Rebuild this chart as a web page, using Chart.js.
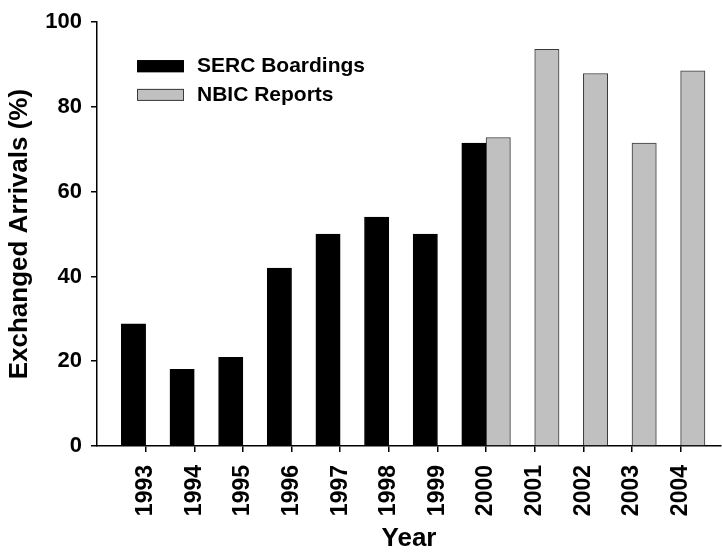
<!DOCTYPE html>
<html>
<head>
<meta charset="utf-8">
<script src="https://cdn.jsdelivr.net/npm/chart.js@4/dist/chart.umd.min.js"></script>
<style>
  html, body { margin: 0; padding: 0; background: #fff; }
  #wrap { width: 722px; height: 552px; }
</style>
</head>
<body>
<div id="wrap"><canvas id="chart"></canvas></div>
<script>
const years = [1993, 1994, 1995, 1996, 1997, 1998, 1999, 2000, 2001, 2002, 2003, 2004];
const sercYears = [1993, 1994, 1995, 1996, 1997, 1998, 1999, 2000];
const sercValues = [28.8, 18.1, 20.9, 42.0, 50.0, 54.0, 50.0, 71.5];
const nbicYears = [2000, 2001, 2002, 2003, 2004];
const nbicValues = [72.8, 93.6, 87.9, 71.5, 88.5];
const yTicks = [0, 20, 40, 60, 80, 100];

const FONT = '"Liberation Sans", Arial, Helvetica, sans-serif';

// legend drawn inside the plot, top-left
const insideLegend = {
    id: 'insideLegend',
    afterDatasetsDraw(chart) {
        const ctx = chart.ctx;
        const area = chart.chartArea;
        const x0 = area.left + 40;
        let y0 = area.top + 38;
        ctx.save();
        ctx.font = 'bold 21px ' + FONT;
        ctx.textBaseline = 'middle';
        ctx.textAlign = 'left';
        chart.data.datasets.forEach(ds => {
            ctx.fillStyle = ds.backgroundColor;
            ctx.fillRect(x0, y0, 47, 12);
            ctx.strokeStyle = ds.borderColor;
            ctx.lineWidth = 1;
            ctx.strokeRect(x0 + 0.5, y0 + 0.5, 46, 11);
            ctx.fillStyle = '#000';
            ctx.fillText(ds.label, x0 + 60, y0 + 6);
            y0 += 28.7;
        });
        ctx.restore();
    }
};

const ctx = document.getElementById('chart');
new Chart(ctx, {
    type: 'bar',
    data: {
        datasets: [
            {
                label: 'SERC Boardings',
                data: sercYears.map((x, i) => ({ x: x, y: sercValues[i] })),
                backgroundColor: '#000000',
                borderColor: '#000000',
                borderWidth: 1,
                categoryPercentage: 1,
                barPercentage: 1
            },
            {
                label: 'NBIC Reports',
                data: nbicYears.map((x, i) => ({ x: x, y: nbicValues[i] })),
                backgroundColor: '#c0c0c0',
                borderColor: '#3a3a3a',
                borderWidth: 1,
                categoryPercentage: 1,
                barPercentage: 1
            }
        ]
    },
    options: {
        responsive: true,
        maintainAspectRatio: false,
        animation: false,
        layout: { padding: { top: 21, right: 1, bottom: 0, left: 0 } },
        plugins: {
            legend: { display: false },
            tooltip: { enabled: false }
        },
        scales: {
            x: {
                type: 'linear',
                min: 1992,
                max: 2004.83,
                offset: false,
                afterBuildTicks: s => { s.ticks = years.map(v => ({ value: v })); },
                afterFit: s => { s.height = 106; },
                grid: { offset: false, drawOnChartArea: false, drawTicks: true, tickLength: 6, color: '#000', lineWidth: 1.5 },
                border: { display: true, color: '#000', width: 1.5 },
                ticks: {
                    autoSkip: false,
                    maxRotation: 90,
                    minRotation: 90,
                    padding: 13,
                    color: '#000',
                    font: { family: FONT, size: 23, weight: 'bold' },
                    callback: v => String(v)
                },
                title: {
                    display: true,
                    text: 'Year',
                    color: '#000',
                    padding: { top: 0, bottom: 0 },
                    font: { family: FONT, size: 26, weight: 'bold', lineHeight: 1 }
                }
            },
            y: {
                min: 0,
                max: 100,
                afterBuildTicks: s => { s.ticks = yTicks.map(v => ({ value: v })); },
                afterFit: s => { s.width = 97; },
                grid: { drawOnChartArea: false, drawTicks: true, tickLength: 6, color: '#000', lineWidth: 1.5 },
                border: { display: true, color: '#000', width: 1.5 },
                ticks: {
                    padding: 9,
                    color: '#000',
                    font: { family: FONT, size: 22, weight: 'bold' }
                },
                title: {
                    display: true,
                    text: 'Exchanged Arrivals (%)',
                    color: '#000',
                    padding: { top: 7, bottom: 0 },
                    font: { family: FONT, size: 26, weight: 'bold', lineHeight: 1 }
                }
            }
        }
    },
    plugins: [insideLegend]
});
</script>
</body>
</html>
